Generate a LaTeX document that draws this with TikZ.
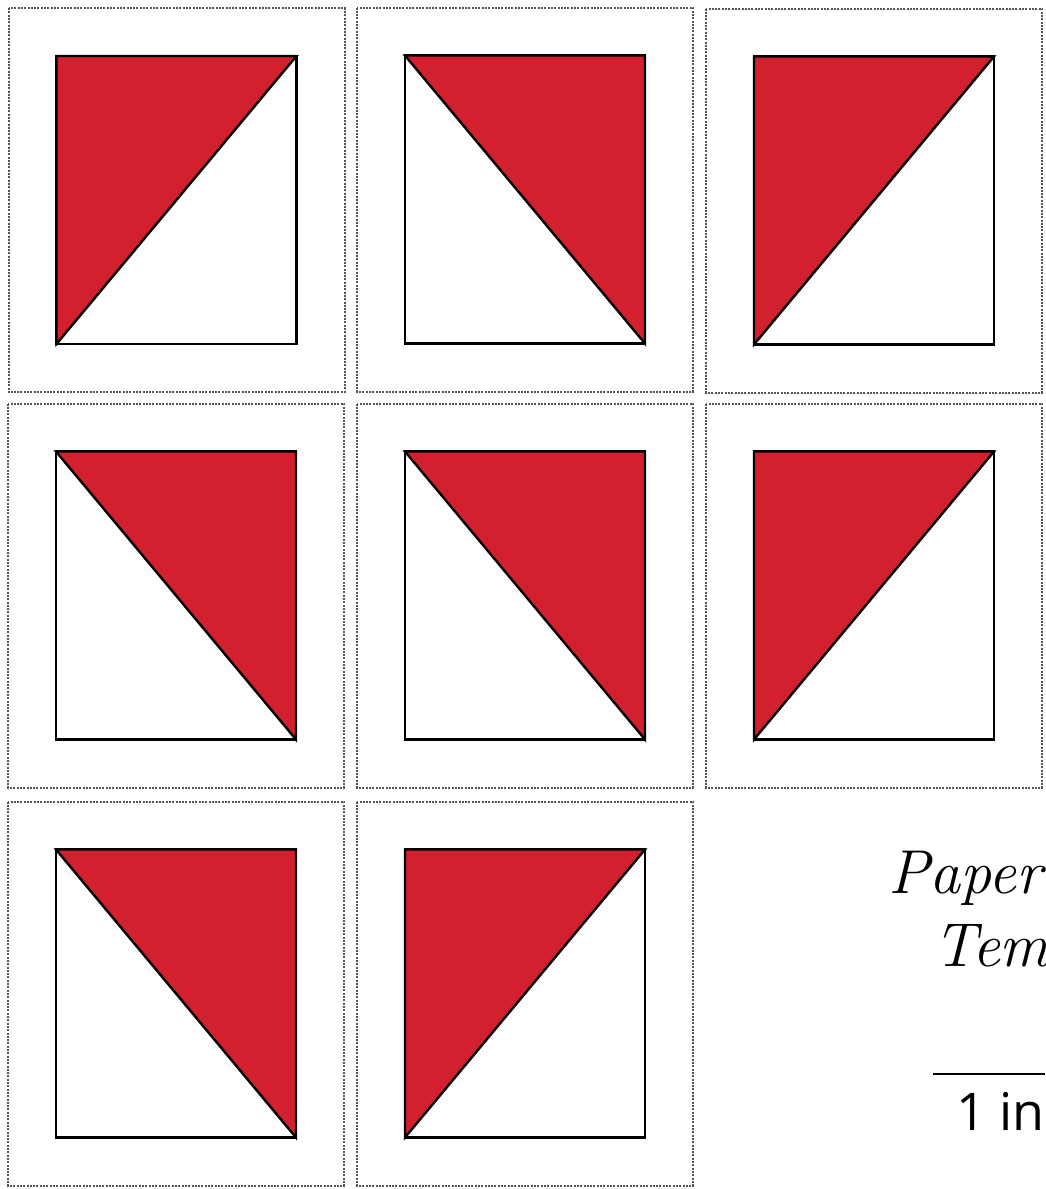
\documentclass[tikz,border=0pt]{standalone}
\usepackage{fontspec}
\newfontfamily\labelfont{Open Sans}
\definecolor{quiltred}{RGB}{210,32,46}
\definecolor{cutgray}{RGB}{85,85,85}
\tikzset{
  cutline/.style={draw=cutgray, line width=2pt, dash pattern=on 2pt off 1.3pt},
  sewline/.style={draw=black, line width=2.4pt, line join=miter},
  redpatch/.style={fill=quiltred, draw=black, line width=2.4pt, line join=miter},
  titletext/.style={font=\itshape\fontsize{62}{68}\selectfont, anchor=base west, inner sep=0pt},
  scaletext/.style={font=\labelfont\fontsize{52}{58}\selectfont, anchor=base west, inner sep=0pt}
}
\begin{document}
\begin{tikzpicture}[x=1pt, y=-1pt]
\useasboundingbox (0,0) rectangle (1045,1189);
\clip (0,0) rectangle (1045,1189);
\fill[white] (0,0) rectangle (1045,1189);
\foreach \ox/\oy/\o [count=\i] in {8.5/8/L, 357/7.5/R, 706/8.5/L, 8/403.5/R, 357/403.5/R, 706/403.5/L, 8/801.5/R, 357/801.5/L} {
  \draw[cutline] (\ox,\oy) rectangle ({\ox+336},{\oy+384});
  \coordinate (tl\i) at ({\ox+48},{\oy+48});
  \coordinate (tr\i) at ({\ox+288},{\oy+48});
  \coordinate (bl\i) at ({\ox+48},{\oy+336});
  \coordinate (br\i) at ({\ox+288},{\oy+336});
  \draw[sewline] (tl\i) rectangle (br\i);
  \if\o L
    \path[redpatch] (tl\i) -- (tr\i) -- (bl\i) -- cycle;
  \else
    \path[redpatch] (tl\i) -- (tr\i) -- (br\i) -- cycle;
  \fi
}
\node[titletext] (title1) at (888,893) {Paper Piecing};
\node[titletext] (title2) at (933,966) {Template};
\coordinate (scaleA) at (933,1074);
\coordinate (scaleB) at (1045,1074);
\draw[line width=2pt] (scaleA) -- (scaleB);
\node[scaletext] (scalelbl) at (956,1130) {1 in};
\end{tikzpicture}
\end{document}
